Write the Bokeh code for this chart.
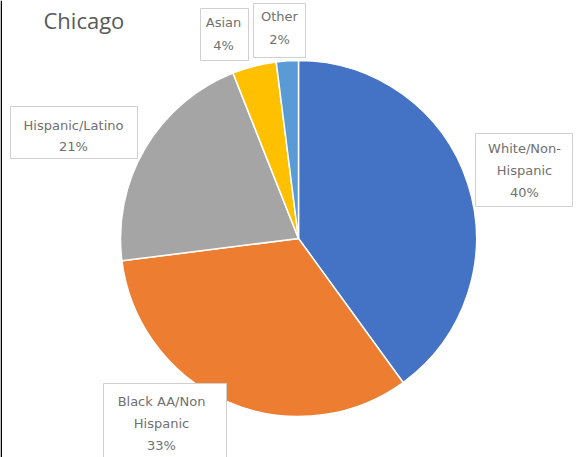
import math
from bokeh.plotting import figure
from bokeh.models import ColumnDataSource, Range1d
from bokeh.core.properties import value
from bokeh.embed import file_html
from bokeh.resources import INLINE

# ---- data ----
categories = ["White/Non-Hispanic", "Black AA/Non Hispanic", "Hispanic/Latino", "Asian", "Other"]
shares = [40, 33, 21, 4, 2]
colors = ["#4472C4", "#ED7D31", "#A5A5A5", "#FFC000", "#5B9BD5"]
label_lines = [["White/Non-", "Hispanic", "40%"],
               ["Black AA/Non", "Hispanic", "33%"],
               ["Hispanic/Latino", "21%"],
               ["Asian", "4%"],
               ["Other", "2%"]]

# ---- layout (pixel coords, y measured from top) ----
W, H = 576, 457
cx, cy, r = 298, 238, 178
# label box: left, top, right, bottom, text centre x, first line y, line step
boxes = [(475, 133, 572, 206, 524, 148, 22),
         (103, 383, 226, 470, 161, 401, 22),
         (10, 106, 137, 158, 73, 125, 21),
         (200, 8, 248, 60, 223, 22, 23),
         (253, 3, 305, 57, 279, 16, 23)]

def Y(py):
    return H - py

p = figure(width=W, height=H, output_backend="svg", toolbar_location=None,
           x_range=Range1d(0, W), y_range=Range1d(0, H), min_border=0)
p.axis.visible = False
p.grid.visible = False
p.outline_line_color = None
p.background_fill_color = "white"
p.border_fill_color = "white"

total = float(sum(shares))
starts, ends = [], []
acc = 0.0
for s in shares:
    a0 = math.pi / 2 - 2 * math.pi * acc / total
    acc += s
    a1 = math.pi / 2 - 2 * math.pi * acc / total
    starts.append(a1)
    ends.append(a0)

src = ColumnDataSource(dict(start=starts, end=ends, color=colors, cat=categories))
p.wedge(x=cx, y=Y(cy), radius=r, start_angle="start", end_angle="end",
        fill_color="color", line_color="white", line_width=1.5, source=src)

# label boxes
for (l, t, rr, b, tx, ty, step), lines in zip(boxes, label_lines):
    p.quad(left=l, right=rr, top=Y(t), bottom=Y(b), fill_color="white",
           line_color="#D0D0D0", line_width=1)
    for i, ln in enumerate(lines):
        p.text(x=[tx], y=[Y(ty + i * step)], text=[ln], text_align="center",
               text_baseline="middle", text_font=value("DejaVu Sans"),
               text_font_size="13px", text_color="#707070")

# title
p.text(x=[43], y=[Y(19)], text=["Chicago"], text_align="left",
       text_baseline="alphabetic", text_font=value("Open Sans"),
       text_font_size="22px", text_color="#595959")

# left border line
p.quad(left=0, right=1.5, top=H, bottom=0, fill_color="black", line_color=None)

open("out.html", "w").write(file_html(p, INLINE))
